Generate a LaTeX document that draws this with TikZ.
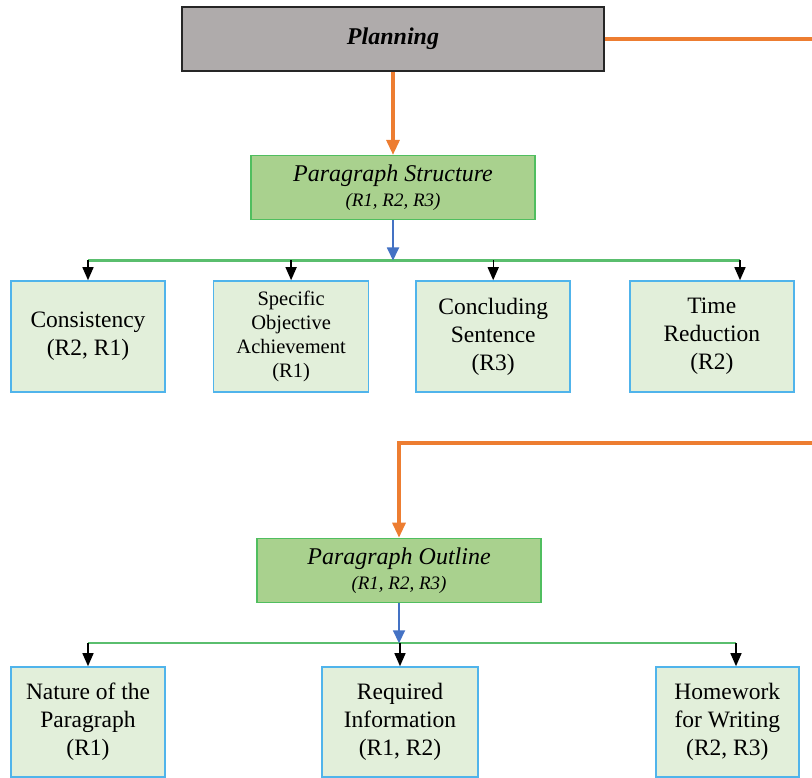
\documentclass[tikz,border=0pt]{standalone}
\usepackage{fontspec}
\setmainfont{Liberation Serif}
\usepackage{tikz}
\usetikzlibrary{arrows.meta,positioning,calc}
\definecolor{planbg}{RGB}{175,171,171}
\definecolor{planline}{RGB}{38,38,38}
\definecolor{headbg}{RGB}{169,209,142}
\definecolor{headline}{RGB}{80,190,95}
\definecolor{leafbg}{RGB}{226,239,218}
\definecolor{leafline}{RGB}{80,180,235}
\definecolor{flowline}{RGB}{237,125,49}
\definecolor{downline}{RGB}{68,114,196}
\definecolor{barline}{RGB}{90,190,110}
\tikzset{
  planbox/.style={
    draw=planline,
    fill=planbg,
    line width=1.8pt,
    align=center,
    inner sep=0pt,
    minimum width=422pt,
    minimum height=64pt,
    font=\fontsize{24}{28}\selectfont\bfseries\itshape
  },
  headbox/.style={
    draw=headline,
    fill=headbg,
    line width=1.6pt,
    align=center,
    inner sep=0pt,
    minimum width=284pt,
    minimum height=64pt,
    font=\fontsize{24}{25}\selectfont\itshape
  },
  leafbox/.style={
    draw=leafline,
    fill=leafbg,
    line width=1.6pt,
    align=center,
    inner sep=0pt,
    minimum height=111pt,
    font=\fontsize{23.5}{28}\selectfont
  },
  flowarrow/.style={-{Triangle[length=15pt,width=13pt]}, draw=flowline, line width=3.2pt},
  downarrow/.style={-{Triangle[length=13pt,width=12pt]}, draw=downline, line width=1.8pt},
  leafarrow/.style={-{Triangle[length=13pt,width=11pt]}, line width=1.4pt},
  bar/.style={draw=barline, line width=2.2pt}
}
\newcommand{\refs}[1]{\\{\fontsize{19}{20}\selectfont #1}}

\begin{document}
\begin{tikzpicture}[x=1pt,y=1pt]
  \useasboundingbox (0,0) rectangle (812,-778);
  \clip (0,0) rectangle (812,-778);

  \node[planbox] (plan) at (393,-39) {Planning};
  \node[headbox, below=83pt of plan] (pstruct) {Paragraph Structure\refs{(R1, R2, R3)}};

  % first row of outcomes
  \node[leafbox, minimum width=154pt] (cons) at (88,-336.5) {Consistency\\(R2, R1)};
  \node[leafbox, minimum width=155pt, right=47pt of cons,
        font=\fontsize{20.5}{24}\selectfont] (spec) {Specific\\Objective\\Achievement\\(R1)};
  \node[leafbox, minimum width=154pt, right=46pt of spec] (conc) {Concluding\\Sentence\\(R3)};
  \node[leafbox, minimum width=164pt, right=58pt of conc] (time) {Time\\Reduction\\(R2)};

  \node[headbox] (outline) at (399,-570.5) {Paragraph Outline\refs{(R1, R2, R3)}};

  % second row of outcomes
  \node[leafbox, minimum width=154pt, minimum height=110pt] (nature) at (88,-722) {Nature of the\\Paragraph\\(R1)};
  \node[leafbox, minimum width=156pt, minimum height=110pt] (reqd) at (400,-722) {Required\\Information\\(R1, R2)};
  \node[leafbox, minimum width=143pt, minimum height=110pt, anchor=west] (hmwk) at (655,-722) {Homework\\for Writing\\(R2, R3)};

  \coordinate (bar1) at ($(pstruct.south)+(0,-40pt)$);
  \coordinate (bar2) at ($(outline.south)+(0,-40pt)$);
  \coordinate (timetop) at ($(time.north west)+(111pt,0)$);
  \coordinate (hmwktop) at ($(hmwk.north west)+(81pt,0)$);

  \draw[flowarrow] (plan.south) -- (pstruct.north);
  \draw[flowarrow] (plan.east) -- ++(240pt,0) -- ++(0,-404pt) -| (outline.north);

  \draw[bar] (cons.north |- bar1) -- (timetop |- bar1);
  \draw[downarrow] (pstruct.south) -- (bar1);
  \draw[leafarrow] (cons.north |- bar1) -- (cons.north);
  \draw[leafarrow] (spec.north |- bar1) -- (spec.north);
  \draw[leafarrow] (conc.north |- bar1) -- (conc.north);
  \draw[leafarrow] (timetop |- bar1) -- (timetop);

  \draw[bar] (nature.north |- bar2) -- (hmwktop |- bar2);
  \draw[downarrow] (outline.south) -- (bar2);
  \draw[leafarrow] (nature.north |- bar2) -- (nature.north);
  \draw[leafarrow] (reqd.north |- bar2) -- (reqd.north);
  \draw[leafarrow] (hmwktop |- bar2) -- (hmwktop);
\end{tikzpicture}
\end{document}
